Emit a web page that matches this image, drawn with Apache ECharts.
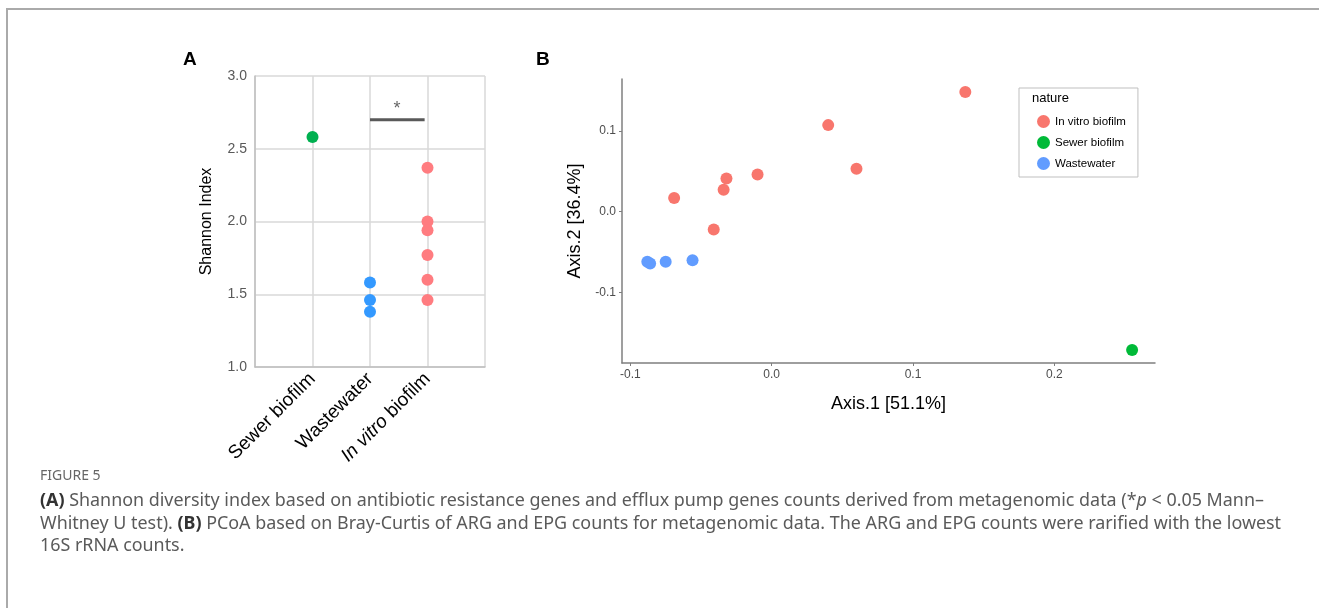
<!DOCTYPE html>
<html>
<head>
<meta charset="utf-8">
<script src="https://cdn.jsdelivr.net/npm/echarts@6/dist/echarts.min.js"></script>
<style>
  html, body { margin: 0; padding: 0; background: #fff; }
  #chart { width: 1319px; height: 608px; }
</style>
</head>
<body>
<div id="chart"></div>
<script>
// panel A - shannon index per group
const categories = ['Sewer biofilm', 'Wastewater', 'In vitro biofilm']
const shannonSewer = [2.58]
const shannonWaste = [1.58, 1.46, 1.38]
const shannonVitro = [2.37, 2.0, 1.94, 1.77, 1.6, 1.46]
const shannonTicks = [1.0, 1.5, 2.0, 2.5, 3.0]
// significance bar between Wastewater and In vitro biofilm
const sigBar = [[2, 2.7], [2.95, 2.7]]
const sigStar = [[2.47, 2.7]]

// panel B - PCoA coordinates [Axis.1, Axis.2]
const legendNames = ['In vitro biofilm', 'Sewer biofilm', 'Wastewater']
const pcoaVitro = [
  [0.137, 0.148], [0.040, 0.107], [0.060, 0.053], [-0.010, 0.046],
  [-0.032, 0.041], [-0.034, 0.027], [-0.069, 0.017], [-0.041, -0.022],
]
const pcoaSewer = [[0.255, -0.171]]
const pcoaWaste = [[-0.088, -0.062], [-0.086, -0.064], [-0.075, -0.062], [-0.056, -0.060]]
const pcoaXTicks = [-0.1, 0.0, 0.1, 0.2]
const pcoaYTicks = [-0.1, 0.0, 0.1]

const captionLines = [
  '{b|(A)} Shannon diversity index based on antibiotic resistance genes and efflux pump genes counts derived from metagenomic data (*{i|p} < 0.05 Mann–',
  'Whitney U test). {b|(B)} PCoA based on Bray-Curtis of ARG and EPG counts for metagenomic data. The ARG and EPG counts were rarified with the lowest',
  '16S rRNA counts.',
]

const colA = { sewer: '#00b050', waste: '#3399ff', vitro: '#ff7c80' }
const colB = { vitro: '#F8766D', sewer: '#00BA38', waste: '#619CFF' }
const fontMain = 'Liberation Sans, Arial, sans-serif'
const capSize = 17.9

function toPoints(idx, vals) {
  return vals.map((v) => [idx + 1, v])
}

const chart = echarts.init(document.getElementById('chart'))

const captionGraphics = captionLines.map((t, i) => ({
  type: 'text',
  left: 40,
  top: 492 + i * 22.5,
  style: {
    text: t,
    font: capSize + 'px "Noto Sans", sans-serif',
    fill: '#5a5a5a',
    rich: {
      b: { fontWeight: 'bold', fill: '#333', fontSize: capSize, fontFamily: 'Noto Sans' },
      i: { fontStyle: 'italic', fill: '#5a5a5a', fontSize: capSize, fontFamily: 'Noto Sans' },
    },
  },
}))

const option = {
  backgroundColor: '#fff',
  animation: false,
  textStyle: { fontFamily: fontMain },
  grid: [
    { left: 255, top: 76, width: 230, height: 291 },
    { left: 622, top: 79, width: 533, height: 284 },
  ],
  xAxis: [
    {
      gridIndex: 0,
      type: 'value',
      min: 0,
      max: 4,
      interval: 1,
      axisLine: { show: true, lineStyle: { color: '#bfbfbf', width: 1.5 } },
      axisTick: { show: false },
      splitLine: { show: true, lineStyle: { color: '#d9d9d9', width: 1.5 } },
      axisLabel: {
        rotate: 45,
        margin: 9,
        fontSize: 19,
        color: '#000',
        formatter: (v) => {
          const name = categories[v - 1]
          if (!name) return ''
          return name.startsWith('In vitro') ? '{i|In vitro} biofilm' : name
        },
        rich: { i: { fontStyle: 'italic', fontSize: 19, color: '#000' } },
      },
    },
    {
      gridIndex: 1,
      type: 'value',
      min: -0.1059,
      max: 0.2712,
      name: 'Axis.1 [51.1%]',
      nameLocation: 'middle',
      nameGap: 32,
      nameTextStyle: { fontSize: 18, color: '#000' },
      axisLine: { show: true, onZero: false, lineStyle: { color: '#7f7f7f', width: 1.5 } },
      axisTick: { show: true, length: 3, lineStyle: { color: '#7f7f7f' }, customValues: pcoaXTicks },
      splitLine: { show: false },
      axisLabel: {
        customValues: pcoaXTicks,
        margin: 6,
        fontSize: 12,
        color: '#4d4d4d',
        formatter: (v) => v.toFixed(1),
      },
    },
  ],
  yAxis: [
    {
      gridIndex: 0,
      type: 'value',
      min: 1,
      max: 3,
      interval: 0.5,
      name: 'Shannon Index',
      nameLocation: 'middle',
      nameGap: 40,
      nameTextStyle: { fontSize: 16, color: '#000' },
      axisLine: { show: true, lineStyle: { color: '#bfbfbf', width: 1.5 } },
      axisTick: { show: false },
      splitLine: { show: true, lineStyle: { color: '#d9d9d9', width: 1.5 } },
      axisLabel: {
        fontSize: 14,
        color: '#595959',
        margin: 8,
        formatter: (v) => v.toFixed(1),
        customValues: shannonTicks,
      },
    },
    {
      gridIndex: 1,
      type: 'value',
      min: -0.187,
      max: 0.164,
      name: 'Axis.2 [36.4%]',
      nameLocation: 'middle',
      nameGap: 38,
      nameTextStyle: { fontSize: 18, color: '#000' },
      axisLine: { show: true, onZero: false, lineStyle: { color: '#7f7f7f', width: 1.5 } },
      axisTick: { show: true, length: 3, lineStyle: { color: '#7f7f7f' }, customValues: pcoaYTicks },
      splitLine: { show: false },
      axisLabel: {
        customValues: pcoaYTicks,
        margin: 6,
        fontSize: 12,
        color: '#4d4d4d',
        formatter: (v) => v.toFixed(1),
      },
    },
  ],
  legend: {
    data: legendNames,
    orient: 'vertical',
    left: 1019,
    top: 88,
    width: 120,
    padding: [27, 12, 7, 18],
    itemWidth: 13,
    itemHeight: 13,
    itemGap: 8,
    icon: 'circle',
    borderColor: '#bfbfbf',
    borderWidth: 1,
    textStyle: { fontSize: 11.5, color: '#000' },
  },
  graphic: [
    { type: 'line', shape: { x1: 6, y1: 9, x2: 1319, y2: 9 }, style: { stroke: '#aaa', lineWidth: 2 } },
    { type: 'line', shape: { x1: 7, y1: 8, x2: 7, y2: 608 }, style: { stroke: '#aaa', lineWidth: 2 } },
    { type: 'text', left: 183, top: 50, style: { text: 'A', font: 'bold 19px Liberation Sans', fill: '#000' } },
    { type: 'text', left: 536, top: 50, style: { text: 'B', font: 'bold 19px Liberation Sans', fill: '#000' } },
    { type: 'text', left: 1032, top: 92, style: { text: 'nature', font: '13px Liberation Sans', fill: '#000' } },
    { type: 'text', left: 40, top: 469, style: { text: 'FIGURE 5', font: '14px "Noto Sans", sans-serif', fill: '#666' } },
    ...captionGraphics,
  ],
  series: [
    {
      name: 'A Sewer biofilm', type: 'scatter', xAxisIndex: 0, yAxisIndex: 0,
      symbolSize: 12, itemStyle: { color: colA.sewer, opacity: 1 }, data: toPoints(0, shannonSewer),
    },
    {
      name: 'A Wastewater', type: 'scatter', xAxisIndex: 0, yAxisIndex: 0,
      symbolSize: 12, itemStyle: { color: colA.waste, opacity: 1 }, data: toPoints(1, shannonWaste),
    },
    {
      name: 'A In vitro biofilm', type: 'scatter', xAxisIndex: 0, yAxisIndex: 0,
      symbolSize: 12, itemStyle: { color: colA.vitro, opacity: 1 }, data: toPoints(2, shannonVitro),
    },
    {
      name: 'sig', type: 'line', xAxisIndex: 0, yAxisIndex: 0,
      showSymbol: false, symbol: 'none', lineStyle: { color: '#595959', width: 3 }, data: sigBar,
    },
    {
      name: 'sigStar', type: 'scatter', xAxisIndex: 0, yAxisIndex: 0, symbolSize: 0,
      label: { show: true, position: 'top', distance: 2, formatter: '*', fontSize: 18, color: '#404040' },
      data: sigStar,
    },
    {
      name: 'In vitro biofilm', type: 'scatter', xAxisIndex: 1, yAxisIndex: 1,
      symbolSize: 12, itemStyle: { color: colB.vitro, opacity: 1 }, data: pcoaVitro,
    },
    {
      name: 'Sewer biofilm', type: 'scatter', xAxisIndex: 1, yAxisIndex: 1,
      symbolSize: 12, itemStyle: { color: colB.sewer, opacity: 1 }, data: pcoaSewer,
    },
    {
      name: 'Wastewater', type: 'scatter', xAxisIndex: 1, yAxisIndex: 1,
      symbolSize: 12, itemStyle: { color: colB.waste, opacity: 1 }, data: pcoaWaste,
    },
  ],
}

chart.setOption(option)
</script>
</body>
</html>
